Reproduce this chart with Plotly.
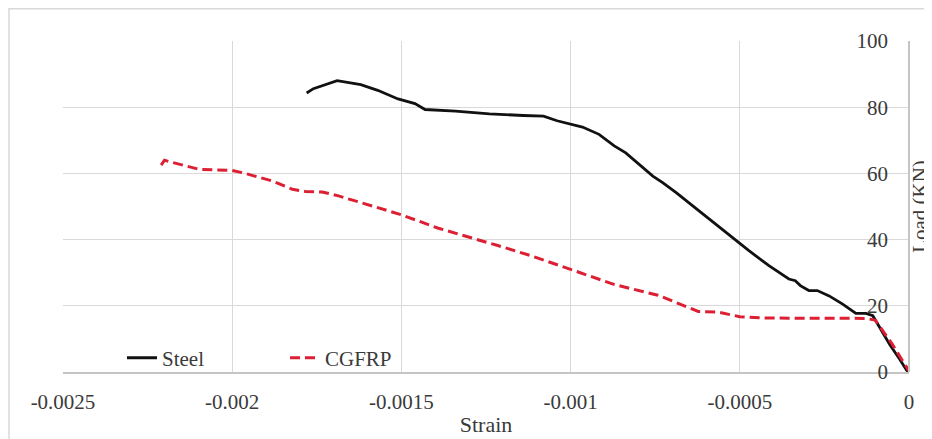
import plotly.graph_objects as go

# ---- data ----
steel_strain = [-0.00178, -0.00176, -0.00169, -0.00162, -0.00157, -0.00151, -0.00146, -0.00143,
                -0.00134, -0.00124, -0.00114, -0.00108, -0.00104, -0.00100, -0.000965, -0.000916,
                -0.000871, -0.000837, -0.000797, -0.000757, -0.000728, -0.000688, -0.000639,
                -0.000589, -0.00054, -0.0005, -0.000475, -0.000415, -0.000355, -0.000336,
                -0.000321, -0.000296, -0.000271, -0.000236, -0.000196, -0.000157, -0.000127,
                -0.000107, -0.000092, -0.000057, -0.000027, -0.000007, 0.0]
steel_load = [84.3, 85.6, 88.0, 86.8, 85.1, 82.5, 81.1, 79.3,
              78.8, 78.0, 77.5, 77.3, 75.9, 75.0, 74.0, 71.8,
              68.3, 66.2, 62.7, 59.2, 57.2, 54.2, 50.2,
              46.1, 42.0, 39.0, 36.8, 32.2, 28.1, 27.6,
              26.1, 24.6, 24.6, 23.0, 20.5, 17.7, 17.7,
              17.0, 14.4, 8.3, 3.8, 0.5, 0.0]

cgfrp_strain = [-0.00221, -0.00220, -0.002184, -0.002155, -0.002096, -0.002, -0.001969, -0.001881,
                -0.001822, -0.001783, -0.001734, -0.001686, -0.001588, -0.0015, -0.001393,
                -0.001314, -0.001215, -0.001116, -0.001, -0.00087, -0.000742, -0.000673,
                -0.000623, -0.000564, -0.0005, -0.000426, -0.00013, -0.0001, -0.00005, 0.0]
cgfrp_load = [62.5, 64.0, 63.5, 62.7, 61.2, 60.9, 60.2, 57.7,
              55.2, 54.5, 54.4, 53.2, 50.2, 47.5, 43.5,
              41.2, 38.2, 35.1, 31.0, 26.4, 23.2, 20.3,
              18.3, 18.1, 16.7, 16.3, 16.2, 15.7, 8.5, 0.3]

x_tickvals = [-0.0025, -0.002, -0.0015, -0.001, -0.0005, 0]
x_ticktext = ["-0.0025", "-0.002", "-0.0015", "-0.001", "-0.0005", "0"]
y_tickvals = [0, 20, 40, 60, 80, 100]
y_ticktext = ["0", "20", "40", "60", "80", "100"]

FONT = "Liberation Serif"
TXT = "#3a3a3a"
GRID = "#d9d9d9"
AXIS = "#c4c4c4"

# page body has an 8px default margin; the figure is sized/offset to compensate
W, H = 924, 431
ML, MR, MT, MB = 55, 23, 33, 67
PW, PH = W - ML - MR, H - MT - MB

fig = go.Figure()
fig.add_trace(go.Scatter(x=steel_strain, y=steel_load, mode="lines", name="Steel",
                         line=dict(color="#111111", width=2.8)))
fig.add_trace(go.Scatter(x=cgfrp_strain, y=cgfrp_load, mode="lines", name="CGFRP",
                         line=dict(color="#dc1f33", width=3, dash="10px,5px")))
# empty trace so the right-hand title axis is rendered
fig.add_trace(go.Scatter(x=[], y=[], yaxis="y2", showlegend=False, hoverinfo="skip"))

fig.update_layout(
    width=W, height=H,
    margin=dict(l=ML, r=MR, t=MT, b=MB, autoexpand=False),
    paper_bgcolor="white", plot_bgcolor="white",
    font=dict(family=FONT, size=21, color=TXT),
    showlegend=True,
    legend=dict(orientation="h", x=(122 - 8 - ML) / PW, y=-0.02, xanchor="left", yanchor="bottom",
                bgcolor="rgba(0,0,0,0)", font=dict(family=FONT, size=21, color=TXT),
                entrywidth=118, entrywidthmode="pixels", tracegroupgap=0),
    xaxis=dict(range=[-0.0025, 0], tickvals=x_tickvals, ticktext=x_ticktext,
               showgrid=True, gridcolor=GRID, gridwidth=1, zeroline=False,
               showline=True, linecolor=AXIS, linewidth=1.5,
               ticks="outside", ticklen=10, tickcolor="rgba(0,0,0,0)",
               tickfont=dict(family=FONT, size=21, color=TXT),
               title=dict(text="Strain", font=dict(family=FONT, size=22, color=TXT), standoff=4),
               automargin=False),
    yaxis=dict(range=[0, 100], tickvals=y_tickvals, ticktext=y_ticktext,
               side="left", anchor="free", position=1.0,
               showgrid=True, gridcolor=GRID, gridwidth=1, zeroline=False,
               showline=True, linecolor=AXIS, linewidth=1.5,
               ticks="outside", ticklen=16, tickcolor="rgba(0,0,0,0)",
               tickfont=dict(family=FONT, size=21, color=TXT),
               automargin=False),
    yaxis2=dict(range=[0, 100], overlaying="y", side="right", showgrid=False,
                showticklabels=False, ticks="", zeroline=False, showline=False,
                title=dict(text="Load (KN)", font=dict(family=FONT, size=21, color=TXT), standoff=6),
                automargin=False),
)

# outer chart frame (light grey border, top and left visible)
fig.add_shape(type="rect", xref="paper", yref="paper",
              x0=(1 - ML) / PW, x1=(W + 20 - ML) / PW,
              y0=(MT + PH - (H + 20)) / PH, y1=(MT + PH - 0.75) / PH,
              line=dict(color="#d9d9d9", width=1.5), layer="below")

fig.write_html("out.html")
